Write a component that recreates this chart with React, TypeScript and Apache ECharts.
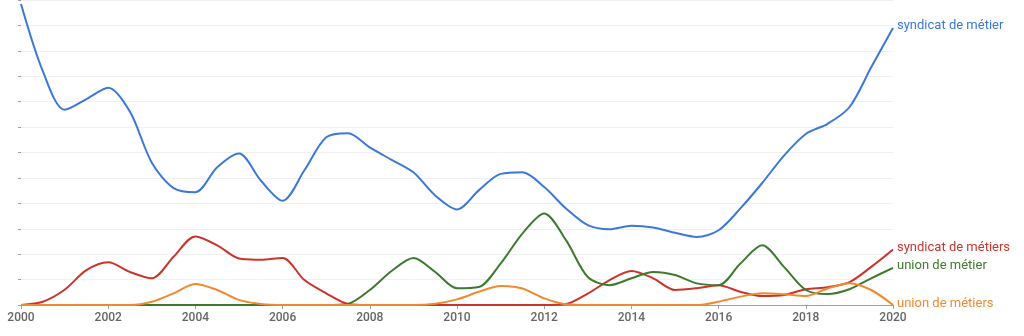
import React, { useEffect, useRef } from "react";
import * as echarts from "echarts";

const years: number[] = [];
for (let i = 0; i <= 40; i++) years.push(2000 + i * 0.5);

const seriesNames = ["syndicat de métier", "syndicat de métiers", "union de métier", "union de métiers"];
const seriesColors = ["#3b78d8", "#c9352c", "#3d7a2e", "#ef8a30"];

const syndicatDeMetier = [
  11.84, 9.2, 7.68, 8.1, 8.55, 7.6, 5.6, 4.6, 4.44, 5.42,
  5.96, 4.9, 4.1, 5.3, 6.6, 6.76, 6.2, 5.71, 5.22, 4.31,
  3.76, 4.51, 5.16, 5.22, 4.64, 3.8, 3.14, 2.98, 3.12, 3.05,
  2.84, 2.68, 2.94, 3.8, 4.8, 5.88, 6.73, 7.13, 7.78, 9.35,
  10.9,
];
const syndicatDeMetiers = [
  0, 0.13, 0.6, 1.37, 1.68, 1.3, 1.05, 1.9, 2.7, 2.35,
  1.83, 1.78, 1.85, 0.98, 0.46, 0.04, 0, 0, 0, 0,
  0, 0, 0, 0, 0, 0.04, 0.45, 0.98, 1.34, 1.05,
  0.59, 0.66, 0.78, 0.52, 0.35, 0.39, 0.62, 0.7, 0.9, 1.5,
  2.18,
];
const unionDeMetier = [
  0, 0, 0, 0, 0, 0, 0, 0, 0, 0,
  0, 0, 0, 0, 0, 0.05, 0.59, 1.34, 1.85, 1.3,
  0.66, 0.71, 1.63, 2.81, 3.6, 2.55, 1.1, 0.78, 1.05, 1.3,
  1.18, 0.85, 0.78, 1.63, 2.35, 1.5, 0.59, 0.43, 0.62, 1.05,
  1.46,
];
const unionDeMetiers = [
  0, 0, 0, 0, 0, 0, 0.13, 0.46, 0.83, 0.59,
  0.2, 0.04, 0, 0, 0, 0, 0, 0, 0, 0.05,
  0.22, 0.52, 0.75, 0.65, 0.26, 0.03, 0, 0, 0, 0,
  0, 0, 0.13, 0.33, 0.46, 0.42, 0.35, 0.65, 0.86, 0.59,
  0,
];
const allValues = [syndicatDeMetier, syndicatDeMetiers, unionDeMetier, unionDeMetiers];

export default function App() {
  const ref = useRef<HTMLDivElement>(null);
  useEffect(() => {
    if (!ref.current) return;
    const chart = echarts.init(ref.current, null, { renderer: "svg" });
    chart.setOption({
      animation: false,
      textStyle: { fontFamily: "Roboto" },
      grid: { left: 21, right: 131, top: -1, bottom: 31 },
      xAxis: {
        type: "value",
        min: 2000,
        max: 2020,
        interval: 2,
        axisLine: { show: true, lineStyle: { color: "#9e9e9e", width: 1 } },
        axisTick: { show: true, length: 4, lineStyle: { color: "#9e9e9e" } },
        axisLabel: {
          color: "#666666",
          fontSize: 12,
          fontWeight: 500,
          fontFamily: "Roboto",
          margin: 6,
          formatter: (v: number) => String(v),
        },
        splitLine: { show: false },
      },
      yAxis: {
        type: "value",
        min: 0,
        max: 12,
        interval: 1,
        axisLine: { show: false },
        axisTick: { show: true, length: 3, lineStyle: { color: "#9e9e9e" } },
        axisLabel: { show: false },
        splitLine: { show: true, lineStyle: { color: "#f0f0f0", width: 1 } },
      },
      series: allValues.map((vals, i) => ({
        name: seriesNames[i],
        type: "line",
        smooth: 0.3,
        symbol: "none",
        clip: true,
        z: 2 + i,
        lineStyle: { color: seriesColors[i], width: 2 },
        itemStyle: { color: seriesColors[i] },
        data: years.map((y, k) => [y, vals[k]]),
        endLabel: {
          show: true,
          formatter: seriesNames[i],
          color: seriesColors[i],
          fontSize: 13,
          fontFamily: "Roboto",
          offset: [0, -3],
          distance: 4,
        },
      })),
    });
    return () => chart.dispose();
  }, []);
  return (
    <div
      ref={ref}
      style={{ position: "fixed", left: 0, top: 0, width: 1024, height: 336 }}
    />
  );
}
